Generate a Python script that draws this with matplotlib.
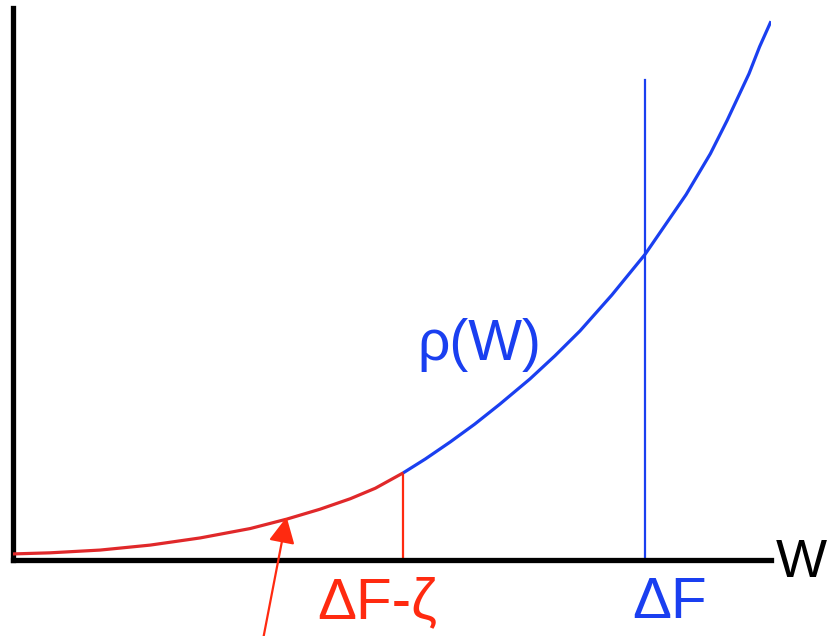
import numpy as np
import matplotlib.pyplot as plt

# curve rho(W) (arbitrary units, axes 0..10)
W = [0.00, 0.49, 1.15, 1.81, 2.47, 3.13, 3.61, 4.05, 4.45, 4.78, 5.15,
     5.44, 5.77, 6.09, 6.42, 6.82, 7.15, 7.48, 7.90, 8.34, 8.67, 8.88,
     9.20, 9.42, 9.71, 9.85, 10.0]
rho = [0.11, 0.13, 0.18, 0.27, 0.40, 0.57, 0.74, 0.92, 1.11, 1.30, 1.58,
       1.83, 2.14, 2.46, 2.82, 3.28, 3.70, 4.15, 4.80, 5.54, 6.20, 6.62,
       7.36, 7.96, 8.81, 9.30, 9.76]
dF = 8.34
dF_zeta = 5.15
dF_top = 8.70
arrow_tip = (3.61, 0.78)
arrow_tail = (3.29, -1.5)

red_line = "#e0282a"
red_txt = "#ff2a10"
blue = "#1a3ff0"

plt.rcParams['font.family'] = ['Liberation Sans', 'DejaVu Sans']

fig = plt.figure(figsize=(8.29, 6.36), dpi=100)
ax = fig.add_axes([13 / 829, 76 / 636, 758 / 829, 552 / 636])
ax.set_xlim(0, 10)
ax.set_ylim(0, 10)

W = np.array(W)
rho = np.array(rho)
lo = W <= dF_zeta
hi = W >= dF_zeta
ax.plot(W[lo], rho[lo], color=red_line, lw=2.3, solid_capstyle='butt',
        solid_joinstyle='round', zorder=3)
ax.plot(W[hi], rho[hi], color=blue, lw=2.3, solid_capstyle='butt',
        solid_joinstyle='round', zorder=3)

rho_cut = rho[W == dF_zeta][0]
ax.plot([dF_zeta, dF_zeta], [0, rho_cut], color=red_txt, lw=1.6)
ax.plot([dF, dF], [0, dF_top], color=blue, lw=1.6)

ax.annotate("", xy=arrow_tip, xytext=arrow_tail,
            arrowprops=dict(arrowstyle='-|>', mutation_scale=40, lw=1.6,
                            color=red_txt, shrinkA=0, shrinkB=0),
            annotation_clip=False)

ax.text(10.06, -0.31, "W", fontsize=39, color='black', ha='left', va='baseline')
ax.text(8.17, -1.05, "ΔF", fontsize=42, color=blue, ha='left', va='baseline')
ax.text(4.02, -1.05, "ΔF-ζ", fontsize=42, color=red_txt, ha='left', va='baseline')
ax.text(5.33, 3.62, "ρ(W)", fontsize=41, color=blue, ha='left', va='baseline')

for s in ['top', 'right']:
    ax.spines[s].set_visible(False)
for s in ['left', 'bottom']:
    ax.spines[s].set_linewidth(3.8)
    ax.spines[s].set_capstyle('projecting')
ax.set_xticks([])
ax.set_yticks([])
ax.patch.set_alpha(0)

fig.savefig("out.png", dpi=100)
